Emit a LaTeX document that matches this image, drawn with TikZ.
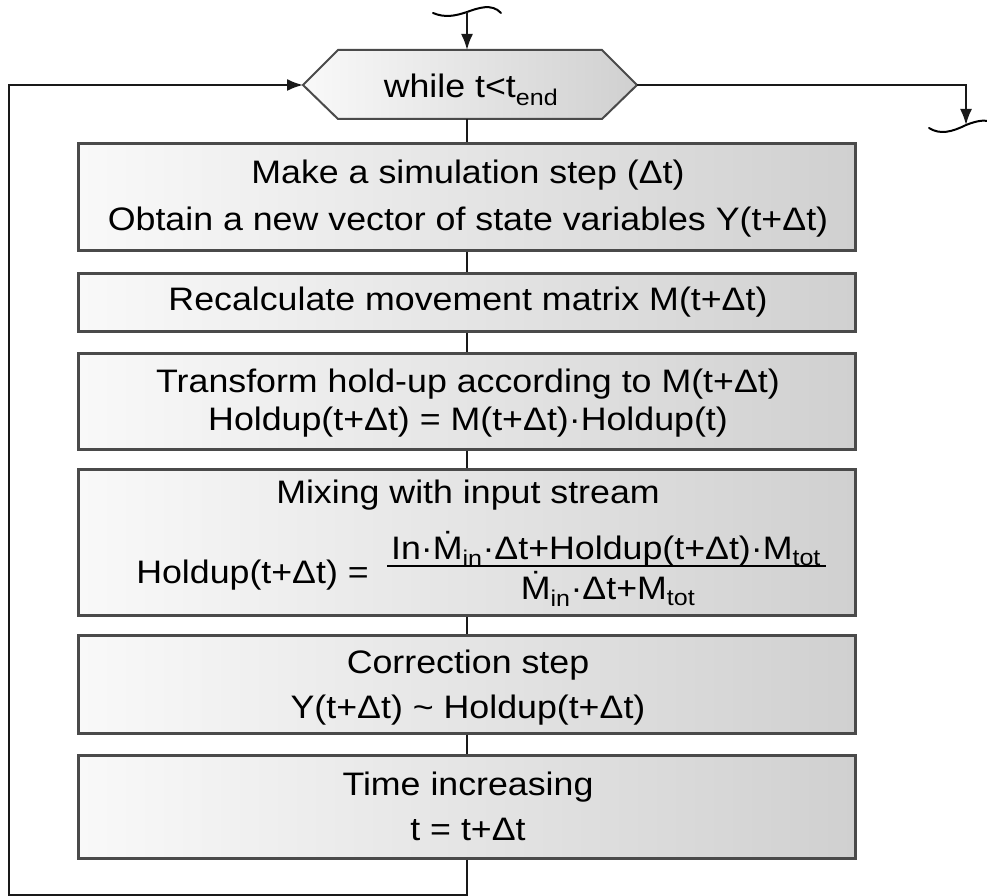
\documentclass[tikz,border=0pt]{standalone}
\usepackage{fontspec}
\setmainfont{Liberation Sans}[FakeStretch=1.1]
\usetikzlibrary{arrows.meta}

\definecolor{boxline}{HTML}{4A4A4A}
\definecolor{boxlight}{HTML}{F9F9F9}
\definecolor{boxdark}{HTML}{D0D0D0}

\newcommand{\Mdot}{\.{M}}

\begin{document}
\begin{tikzpicture}[x=1pt,y=-1pt,
  box/.style={draw=boxline, line width=2.6pt, left color=boxlight, right color=boxdark,
    minimum width=777pt, inner sep=0pt, anchor=north},
  txt/.style={anchor=base, inner sep=0pt, font=\fontsize{32.5}{39}\selectfont},
  flow/.style={line width=2pt, draw=black!90},
  arr/.style={flow, -{Latex[length=16pt,width=12pt]}},
  brk/.style={line width=2pt, line cap=round}]

\useasboundingbox (0,0) rectangle (987,896);

% loop condition (hexagon)
\coordinate (hexW)  at (303,85);
\coordinate (hexNW) at (338,50);
\coordinate (hexN)  at (467,50);
\coordinate (hexNE) at (602,50);
\coordinate (hexE)  at (637,85);
\coordinate (hexSE) at (602,119);
\coordinate (hexS)  at (467,119);
\coordinate (hexSW) at (338,119);
\path[draw=boxline, line width=2pt, left color=boxlight, right color=boxdark]
  (hexW) -- (hexNW) -- (hexNE) -- (hexE) -- (hexSE) -- (hexSW) -- cycle;
\node[txt] (cond) at (471,98) {while t<t\textsubscript{end}};

% process boxes
\node[box, minimum height=107pt] (b1) at (467,142) {};
\node[box, minimum height=58pt]  (b2) at (467,272) {};
\node[box, minimum height=96pt]  (b3) at (467,352) {};
\node[box, minimum height=146pt] (b4) at (467,468) {};
\node[box, minimum height=98pt]  (b5) at (467,634) {};
\node[box, minimum height=103pt] (b6) at (467,754) {};

% box texts
\node[txt] (b1a) at (468,183) {Make a simulation step (Δt)};
\node[txt] (b1b) at (468,230) {Obtain a new vector of state variables Y(t+Δt)};
\node[txt] (b2a) at (468,310) {Recalculate movement matrix M(t+Δt)};
\node[txt] (b3a) at (468,392) {Transform hold-up according to M(t+Δt)};
\node[txt] (b3b) at (468,430) {Holdup(t+Δt) = M(t+Δt)·Holdup(t)};
\node[txt] (b4a) at (468,503) {Mixing with input stream};
\node[txt, anchor=base east] (b4l) at (369,583) {Holdup(t+Δt) =};
\node[txt] (b4n) at (606,559) {In·\Mdot\textsubscript{in}·Δt+Holdup(t+Δt)·M\textsubscript{tot}};
\node[txt] (b4d) at (608,599) {\Mdot\textsubscript{in}·Δt+M\textsubscript{tot}};
\draw[line width=1.8pt] (387,566) -- (826,566);
\node[txt] (b5a) at (468,673) {Correction step};
\node[txt] (b5b) at (468,718) {Y(t+Δt) \textasciitilde{} Holdup(t+Δt)};
\node[txt] (b6a) at (468,795) {Time increasing};
\node[txt] (b6b) at (468,840) {t = t+Δt};

% entry and exit breaks
\coordinate (inTop) at (467,12);
\coordinate (outEnd) at (966,125);
\coordinate (loopBL) at (9,895);
\coordinate (loopTL) at (9,85);
\draw[brk] (433,13) .. controls (445,18) and (455,16) .. (inTop)
  .. controls (478,8) and (492,3) .. (501,13);
\draw[brk] (929,128) .. controls (940,135) and (952,132) .. (outEnd)
  .. controls (976,121) and (983,120) .. (988,121);

% connectors
\draw[arr] (inTop) -- (hexN);
\draw[arr] (hexE) -| (outEnd);
\draw[flow] (hexS) -- (b1.north);
\draw[flow] (b1.south) -- (b2.north);
\draw[flow] (b2.south) -- (b3.north);
\draw[flow] (b3.south) -- (b4.north);
\draw[flow] (b4.south) -- (b5.north);
\draw[flow] (b5.south) -- (b6.north);
\draw[arr] (b6.south) |- (loopBL) -- (loopTL) -- (hexW);

\end{tikzpicture}
\end{document}
